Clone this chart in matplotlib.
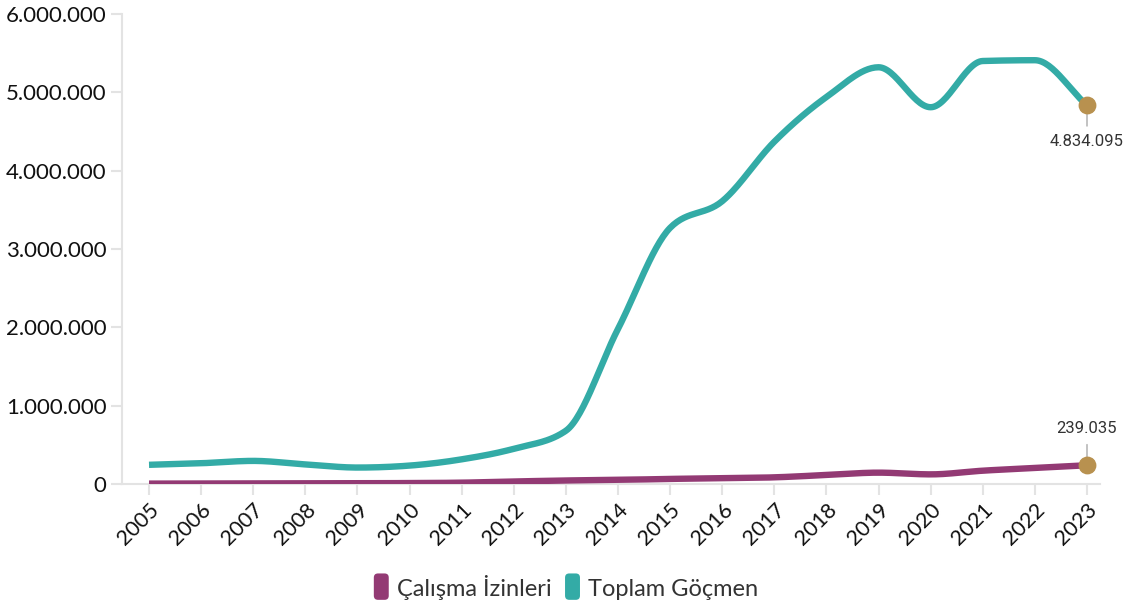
import numpy as np
import matplotlib
matplotlib.use("Agg")
import matplotlib.pyplot as plt
from matplotlib.patches import FancyBboxPatch
from matplotlib.legend_handler import HandlerPatch

years = list(range(2005, 2024))
toplam = [245000, 265000, 295000, 250000, 210000, 235000, 315000, 450000, 680000,
          1980000, 3270000, 3610000, 4370000, 4940000, 5320000, 4810000, 5400000,
          5410000, 4834095]
calisma = [5000, 6000, 6000, 7000, 10000, 12000, 17000, 32000, 45000,
           52000, 65000, 73000, 85000, 115000, 145000, 123000, 170000, 205000, 239035]
series_names = ["Çalışma İzinleri", "Toplam Göçmen"]
colors = ["#933a74", "#33aba6"]
dot_color = "#b8914f"


def monotone(x, y, n=30):
    # monotone cubic (like d3.curveMonotoneX)
    x = np.asarray(x, float); y = np.asarray(y, float)
    h = np.diff(x); s = np.diff(y) / h
    m = np.zeros_like(y)
    for i in range(1, len(y) - 1):
        if s[i-1] * s[i] <= 0:
            m[i] = 0
        else:
            p = (s[i-1] * h[i] + s[i] * h[i-1]) / (h[i-1] + h[i])
            m[i] = np.sign(s[i-1]) * min(abs(s[i-1]), abs(s[i]), 0.5 * abs(p)) * 2
    m[0] = s[0]; m[-1] = s[-1]
    xs, ys = [], []
    for i in range(len(h)):
        t = np.linspace(0, 1, n, endpoint=False)
        h00 = 2*t**3 - 3*t**2 + 1; h10 = t**3 - 2*t**2 + t
        h01 = -2*t**3 + 3*t**2; h11 = t**3 - t**2
        xs.append(x[i] + t*h[i])
        ys.append(h00*y[i] + h10*h[i]*m[i] + h01*y[i+1] + h11*h[i]*m[i+1])
    xs.append([x[-1]]); ys.append([y[-1]])
    return np.concatenate(xs), np.concatenate(ys)


plt.rcParams['font.family'] = ['Lato', 'DejaVu Sans']
fig = plt.figure(figsize=(11.31, 6.08), dpi=100)
ax = fig.add_axes([122/1131, 1-484/608, (1100-122)/1131, 470/608])

for vals, c in [(toplam, colors[1]), (calisma, colors[0])]:
    xs, ys = monotone(years, vals)
    ax.plot(xs, ys, color=c, lw=4.6, solid_capstyle='butt', zorder=3)

ax.set_xlim(2005 - 27/52.11, 2023 + 13/52.11)
ax.set_ylim(0, 6000000)
ax.set_xticks(years)
ax.set_xticklabels([str(y) for y in years], rotation=45, ha='right',
                   rotation_mode='anchor', fontsize=15.5, color='#111111')
ax.set_yticks(np.arange(0, 6000001, 1000000))
ax.set_yticklabels([f"{v:,}".replace(",", ".") for v in range(0, 6000001, 1000000)],
                   fontsize=16, color='#111111')
ax.tick_params(axis='both', color='#e3e3e3', length=8, width=1.5)
ax.tick_params(axis='x', pad=3)
ax.tick_params(axis='y', pad=3)
for side in ['top', 'right']:
    ax.spines[side].set_visible(False)
for side in ['left', 'bottom']:
    ax.spines[side].set_color('#e3e3e3')
    ax.spines[side].set_linewidth(1.5)

# end point markers and labels
for vals, dy in [(toplam, -1), (calisma, 1)]:
    yv = vals[-1]
    ax.scatter([years[-1]], [yv], s=140, color=dot_color, zorder=5)
    label = f"{yv:,}".replace(",", ".")
    ax.annotate("", xy=(years[-1], yv), xytext=(years[-1], yv + dy * 300000),
                arrowprops=dict(arrowstyle='-', color='#aaaaaa', lw=1), zorder=4)
    ax.text(years[-1], yv + dy * 370000, label, ha='center',
            va='top' if dy < 0 else 'bottom', fontsize=12, color='#333333',
            family='Roboto')


class RoundHandler(HandlerPatch):
    def create_artists(self, legend, orig, xd, yd, w, h, fs, trans):
        p = FancyBboxPatch((xd + 1, yd - 3), w - 2, h + 6,
                           boxstyle="round,pad=0,rounding_size=3",
                           facecolor=orig.get_facecolor(), edgecolor='none',
                           transform=trans)
        return [p]


handles = [plt.Rectangle((0, 0), 1, 1, facecolor=c) for c in colors]
fig.legend(handles, series_names, loc='center', bbox_to_anchor=(0.5, 1-588/608),
           ncol=2, frameon=False, fontsize=17, handlelength=0.75, handleheight=0.8,
           handletextpad=0.3, columnspacing=0.5, labelcolor='#333333',
           handler_map={plt.Rectangle: RoundHandler()})

fig.savefig("out.png", dpi=100)
